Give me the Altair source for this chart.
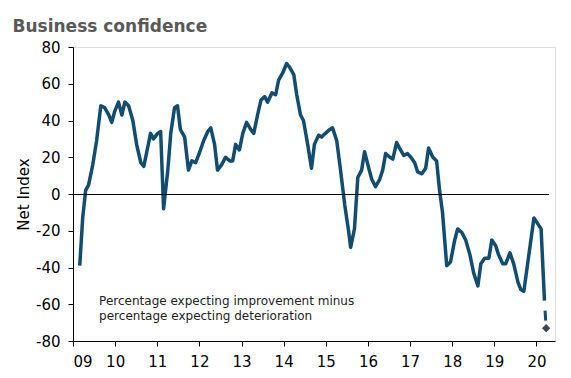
import altair as alt
import pandas as pd

# decimal years (9 = 2009) and net index values
years = [9.16, 9.23, 9.30, 9.37, 9.47, 9.56, 9.66, 9.75, 9.85, 9.92, 9.99,
         10.08, 10.16, 10.23, 10.32, 10.42, 10.51, 10.61, 10.68, 10.77, 10.84, 10.91,
         11.01, 11.08, 11.15, 11.25, 11.32, 11.41, 11.48, 11.55, 11.65, 11.74, 11.82, 11.91,
         12.01, 12.10, 12.20, 12.27, 12.36, 12.43, 12.53, 12.62, 12.72, 12.79, 12.86, 12.95,
         13.03, 13.12, 13.22, 13.29, 13.38, 13.46, 13.55, 13.62, 13.72, 13.81, 13.88, 13.98,
         14.07, 14.14, 14.24, 14.31, 14.40, 14.47, 14.57, 14.66, 14.73, 14.83, 14.90, 14.99,
         15.09, 15.16, 15.26, 15.35, 15.45, 15.54, 15.59, 15.68, 15.76, 15.85, 15.92,
         16.02, 16.09, 16.18, 16.28, 16.35, 16.42, 16.52, 16.59, 16.68, 16.75, 16.85, 16.94,
         17.02, 17.11, 17.18, 17.28, 17.37, 17.44, 17.54, 17.63, 17.70, 17.77, 17.87, 17.96,
         18.06, 18.13, 18.23, 18.32, 18.42, 18.51, 18.61, 18.68, 18.77, 18.87, 18.94,
         19.03, 19.10, 19.20, 19.27, 19.37, 19.46, 19.56, 19.63, 19.70, 19.82, 19.94,
         20.11, 20.19]
values = [-39, -13, 2, 5, 16, 29, 48, 47, 43, 39, 45,
          50, 43, 50, 48, 40, 27, 17, 15, 25, 33, 30,
          33, 34, -8, 13, 33, 47, 48, 35, 31, 13, 18, 17,
          23, 29, 34, 36, 27, 13, 16, 20, 18, 18, 27, 24,
          33, 39, 35, 33, 43, 51, 53, 50, 55, 54, 62, 66,
          71, 69, 65, 54, 43, 40, 27, 14, 27, 32, 31, 33,
          35, 36, 29, 13, -6, -20, -29, -19, 9, 13, 23,
          14, 8, 4, 8, 13, 22, 20, 19, 28, 25, 21, 22,
          20, 17, 12, 11, 14, 25, 20, 18, 2, -10, -39, -37,
          -25, -19, -21, -25, -33, -43, -50, -38, -35, -35, -25,
          -28, -33, -38, -38, -32, -38, -48, -52, -53, -33, -13,
          -19, -58]

# projection
proj_years = [20.19, 20.23]
proj_values = [-58, -73]

x_ticks = list(range(9, 21))
y_ticks = [-80, -60, -40, -20, 0, 20, 40, 60, 80]
note_lines = ["Percentage expecting improvement minus", "percentage expecting deterioration"]
note_y = [-58, -66.5]

df = pd.DataFrame({"year": years, "value": values})
proj = pd.DataFrame({"year": proj_years, "value": proj_values})
diamond = proj.iloc[[-1]]
zero = pd.DataFrame({"year": [9.0], "year2": [20.3], "value": [0]})
notes = pd.DataFrame({"year": [9.62] * 2, "value": note_y, "text": note_lines})

x_scale = alt.Scale(domain=[9, 20.44], nice=False, zero=False)
y_scale = alt.Scale(domain=[-80, 80], nice=False)

x_axis = alt.Axis(values=x_ticks, labelExpr="datum.value < 10 ? '0' + datum.value : '' + datum.value",
                  grid=False, domainColor="black", tickColor="black", tickSize=5,
                  labelOverlap=False,
                  labelFontSize=15, labelColor="black", labelPadding=8, labelFont="DejaVu Sans")
y_axis = alt.Axis(values=y_ticks, grid=False, domainColor="black", tickColor="black", tickSize=5,
                  labelExpr="'' + datum.value", labelOverlap=False, tickCount=9,
                  labelFontSize=15, labelColor="black", labelPadding=8, labelFont="DejaVu Sans",
                  titleFontSize=15, titleFont="DejaVu Sans", titleFontWeight="normal",
                  titleColor="black", titlePadding=4)

X = alt.X("year:Q", scale=x_scale, title=None, axis=x_axis)
Y = alt.Y("value:Q", scale=y_scale, title="Net Index", axis=y_axis)

line = alt.Chart(df).mark_line(color="#104d70", strokeWidth=3.5, strokeJoin="round").encode(x=X, y=Y)

zero_rule = alt.Chart(zero).mark_rule(color="black", strokeWidth=1, yOffset=0.5).encode(
    x=X, x2="year2:Q", y=Y)

proj_line = alt.Chart(proj).mark_line(color="#104d70", strokeWidth=3, strokeDash=[10, 10],
                                       strokeDashOffset=10).encode(x=X, y=Y)

proj_pt = alt.Chart(diamond).mark_point(shape="diamond", filled=True, color="#3c4656", size=70,
                                        opacity=1).encode(x=X, y=Y)

note = alt.Chart(notes).mark_text(align="left", baseline="middle", fontSize=12, font="DejaVu Sans",
                                  color="#222222").encode(x=X, y=Y, text="text:N")

chart = alt.layer(line, zero_rule, proj_line, proj_pt, note).properties(
    width=482, height=294,
    title=alt.TitleParams("Business confidence", anchor="start", font="DejaVu Sans", fontSize=17,
                          fontWeight="bold", color="#595959", offset=4, dx=-4),
    autosize=alt.AutoSizeParams(type="none"),
    padding={"left": 65, "top": 39, "right": 6, "bottom": 30},
).configure_view(stroke=None).configure(font="DejaVu Sans")

chart.save("out.html", embed_options={"renderer": "svg", "actions": False})
